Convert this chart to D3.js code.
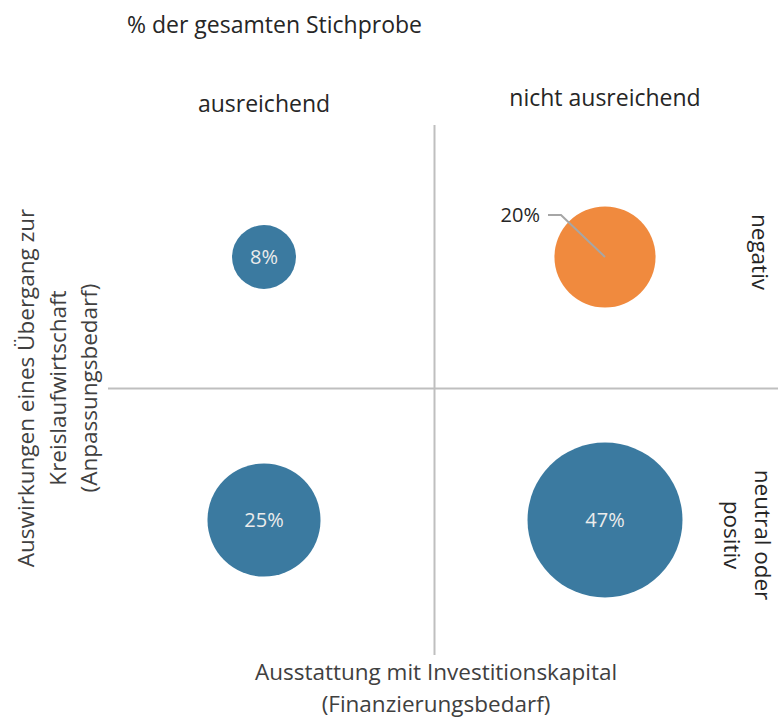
<!DOCTYPE html>
<html>
<head>
<meta charset="utf-8">
<script src="https://cdn.jsdelivr.net/npm/d3@7"></script>
<style>
  body { margin: 0; background: #fff; }
  text { font-family: "Open Sans", sans-serif; }
</style>
</head>
<body>
<div class="chart"></div>
<script>
// Kapital: 1 = ausreichend, 2 = nicht ausreichend
// Auswirkung: 1 = neutral oder positiv, 2 = negativ
let kapital = [1, 2, 1, 2];
let auswirkung = [2, 2, 1, 1];
let anteil = [8, 20, 25, 47];
let colors = ["#3b7aa0", "#f08a3e", "#3b7aa0", "#3b7aa0"];
let colLabels = ["ausreichend", "nicht ausreichend"];
let rowLabels = [["negativ"], ["neutral oder", "positiv"]];

let w = 778;
let h = 718;

let svg = d3.select(".chart")
    .append("svg")
    .attr("width", w)
    .attr("height", h);

let x = d3.scaleLinear().domain([1, 2]).range([264, 605]);
let y = d3.scaleLinear().domain([1, 2]).range([520, 257]);
let r = d3.scaleSqrt().domain([0, 47]).range([0, 77.5]);

// quadrant lines
svg.append("line")
    .attr("x1", x(1.5)).attr("x2", x(1.5))
    .attr("y1", 125).attr("y2", 655)
    .attr("stroke", "#bfbfbf").attr("stroke-width", 2);
svg.append("line")
    .attr("x1", 108).attr("x2", 778)
    .attr("y1", y(1.5)).attr("y2", y(1.5))
    .attr("stroke", "#bfbfbf").attr("stroke-width", 2);

let data = anteil.map(function (v, i) {
    return {x: kapital[i], y: auswirkung[i], v: v, c: colors[i]};
});

svg.selectAll("circle")
    .data(data)
    .enter().append("circle")
    .attr("cx", function (d) { return x(d.x); })
    .attr("cy", function (d) { return y(d.y); })
    .attr("r", function (d) { return r(d.v); })
    .attr("fill", function (d) { return d.c; });

// labels inside bubbles (all except the orange one)
svg.selectAll(".lbl")
    .data(data.filter(function (d) { return d.c !== "#f08a3e"; }))
    .enter().append("text")
    .attr("class", "lbl")
    .attr("x", function (d) { return x(d.x); })
    .attr("y", function (d) { return y(d.y) + 7; })
    .attr("text-anchor", "middle")
    .attr("font-size", "20px")
    .attr("fill", "#ececec")
    .text(function (d) { return d.v + "%"; });

// callout for orange bubble
let o = data[1];
let cx = x(o.x), cy = y(o.y);
svg.append("polyline")
    .attr("points", [[cx - 57, cy - 42], [cx - 44, cy - 42], [cx, cy]].map(function (p) { return p.join(","); }).join(" "))
    .attr("fill", "none")
    .attr("stroke", "#a6a6a6")
    .attr("stroke-width", 2);
svg.append("text")
    .attr("x", cx - 65)
    .attr("y", cy - 35)
    .attr("text-anchor", "end")
    .attr("font-size", "20px")
    .attr("fill", "#262626")
    .text(o.v + "%");

// title
svg.append("text")
    .attr("x", 127).attr("y", 33)
    .attr("font-size", "23px")
    .attr("fill", "#262626")
    .text("% der gesamten Stichprobe");

// column labels
svg.selectAll(".col")
    .data(colLabels)
    .enter().append("text")
    .attr("class", "col")
    .attr("x", function (d, i) { return x(i + 1); })
    .attr("y", function (d, i) { return i == 0 ? 112 : 106; })
    .attr("text-anchor", "middle")
    .attr("font-size", "23px")
    .attr("fill", "#262626")
    .text(function (d) { return d; });

// row labels (rotated clockwise, right side)
let rowG = svg.selectAll(".row")
    .data(rowLabels)
    .enter().append("text")
    .attr("class", "row")
    .attr("transform", function (d, i) {
        return "translate(" + (i == 0 ? 760 : 754) + "," + (i == 0 ? 252 : 535) + ") rotate(90)";
    })
    .attr("text-anchor", "middle")
    .attr("font-size", "22.5px")
    .attr("fill", "#262626");
rowG.selectAll("tspan")
    .data(function (d) { return d; })
    .enter().append("tspan")
    .attr("x", 0)
    .attr("dy", function (d, i) { return i == 0 ? (this.parentNode.__data__.length > 1 ? "-0.05em" : "0.35em") : "1.4em"; })
    .text(function (d) { return d; });

// x axis title
svg.append("text")
    .attr("x", 436).attr("y", 680)
    .attr("text-anchor", "middle")
    .attr("font-size", "22.5px")
    .attr("fill", "#404040")
    .selectAll("tspan")
    .data(["Ausstattung mit Investitionskapital", "(Finanzierungsbedarf)"])
    .enter().append("tspan")
    .attr("x", 436)
    .attr("dy", function (d, i) { return i == 0 ? 0 : 32; })
    .text(function (d) { return d; });

// y axis title
svg.append("text")
    .attr("transform", "translate(34," + 388 + ") rotate(-90)")
    .attr("text-anchor", "middle")
    .attr("font-size", "22.5px")
    .attr("fill", "#404040")
    .selectAll("tspan")
    .data(["Auswirkungen eines Übergang zur", "Kreislaufwirtschaft", "(Anpassungsbedarf)"])
    .enter().append("tspan")
    .attr("x", 0)
    .attr("dy", function (d, i) { return i == 0 ? 0 : 31.5; })
    .text(function (d) { return d; });
</script>
</body>
</html>
